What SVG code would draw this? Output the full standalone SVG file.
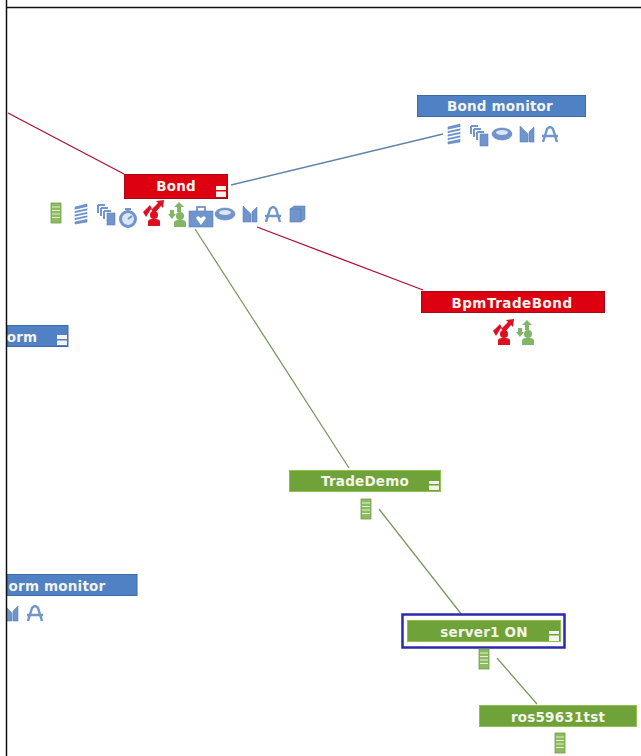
<svg xmlns="http://www.w3.org/2000/svg" xmlns:xlink="http://www.w3.org/1999/xlink" width="641" height="756" viewBox="0 0 641 756">
<style>
.t{font-family:"DejaVu Sans",sans-serif;font-size:13.500px;font-weight:700;fill:#f4f4ec;text-anchor:middle;letter-spacing:.2px}
.bar{stroke-width:1}
.blue{fill:#4f81c4;stroke:#3f6aa6}
.red{fill:#dd0010;stroke:#a80818}
.green{fill:#6fa33a;stroke:#8fc050}
.c{fill:none;stroke-width:1.300}
.min{fill:#f4f4ec}
.ib{fill:#6f95cc;stroke:#5a7fb5;stroke-width:.6}
.il{fill:none;stroke:#7196cc;stroke-width:2}
.ir{fill:#dd1020}
.ig{fill:#82b565}
</style>
<defs>
<g id="server"><rect x="-5" y="-10" width="10" height="20" fill="#8dbb62" stroke="#6e9e48" stroke-width=".8"/><path d="M-4-6H4M-4-2.500H4M-4 1H4M-4 4.500H4" stroke="#e4f0d4" stroke-width="1.200"/></g>
<g id="stack"><path class="ib" d="M-6-7 6-10V8L-6 10Z"/><path d="M-7-3.500 7-6.500M-7 0 7-3M-7 3.500 7 .5M-7 7 7 4" stroke="#fff" stroke-width="1.300"/></g>
<g id="cards"><path class="il" d="M-9-9H-2M-9-9V-1M-6-6H1M-6-6V2M-3-3H4M-3-3V5"/><rect class="ib" x="0" y="-1" width="8" height="12"/></g>
<g id="timer"><circle cx="0" cy="1" r="7.500" fill="#dbe6f5" stroke="#6f95cc" stroke-width="3"/><path d="M-3-9H3M0 1 4-2" stroke="#6f95cc" stroke-width="2" fill="none"/></g>
<g id="redman"><path class="ir" d="M-10-1-3-8-1-4 5-10 3-12 11-13 10-5 8-7 1 1-2-4-7 4Z"/><circle class="ir" cx="1" cy="2" r="4"/><path class="ir" d="M-5 13V8Q-4 6-1 6H3Q6 6 7 8V13Z"/></g>
<g id="greenman"><path class="ig" d="M1-12 6-7H3V-2H-1V-7H-4ZM-8-4H-4V0H-2L-6 5-10 0H-8Z"/><circle class="ig" cx="2" cy="2" r="4"/><path class="ig" d="M-4 13V8Q-3 6 0 6H4Q7 6 8 8V13Z"/></g>
<g id="case"><path d="M-4-8V-12H4V-8" fill="none" stroke="#5a7fb5" stroke-width="1.500"/><rect class="ib" x="-12" y="-8" width="24" height="16"/><path d="M0 6-5-1-3-3 0-1 3-3 5-1Z" fill="#fff"/></g>
<g id="disk"><ellipse class="ib" cx="0" cy="1" rx="10" ry="6"/><ellipse cx="0" cy="-.5" rx="6" ry="2.500" fill="#dbe6f5"/></g>
<g id="shape"><path class="ib" d="M-7-8 1 0V8H-7ZM2-2 7-7V8H2Z" /></g>
<g id="arch"><path d="M-7 8-3-5Q0-9 3-5L7 8M-8 2H8" fill="none" stroke="#7196cc" stroke-width="2.500"/></g>
<g id="cube"><rect class="ib" x="-7" y="-5" width="11" height="13"/><path class="ib" d="M-7-5-3-8H8V5L4 8V-5Z"/></g>
</defs>
<rect width="641" height="756" fill="#fff"/>
<g id="connectors">
<path class="c" d="M8 113 124 174M257 227 423 290" stroke="#b01030"/>
<path class="c" d="M231 185 443 134" stroke="#5f83a8"/>
<path class="c" d="M195 229 349 468M379 509 462 615M497 658 537 704" stroke="#7d9a62"/>
</g>
<g id="node-bond"><rect class="bar red" x="124.500" y="174.500" width="103" height="24"/><text class="t" x="176" y="191">Bond</text><rect class="min" x="216" y="186" width="10" height="11"/><rect x="216" y="190" width="10" height="1.500" fill="#dd0010"/>
<use xlink:href="#server" x="56" y="213"/><use xlink:href="#stack" x="81" y="214"/><use xlink:href="#cards" x="107" y="214"/><use xlink:href="#timer" x="128" y="218"/><use xlink:href="#redman" x="153" y="213"/><use xlink:href="#greenman" x="178" y="214"/><use xlink:href="#case" x="201" y="219"/><use xlink:href="#disk" x="225" y="213"/><use xlink:href="#shape" x="250" y="214"/><use xlink:href="#arch" x="273" y="214"/><use xlink:href="#cube" x="297" y="214"/></g>
<g id="node-bond-monitor"><rect class="bar blue" x="417.500" y="95.500" width="168" height="21"/><text class="t" x="500" y="111">Bond monitor</text>
<use xlink:href="#stack" x="454" y="134"/><use xlink:href="#cards" x="480" y="135"/><use xlink:href="#disk" x="502" y="133"/><use xlink:href="#shape" x="527" y="134"/><use xlink:href="#arch" x="550" y="134"/></g>
<g id="node-bpmtradebond"><rect class="bar red" x="421.500" y="291.500" width="183" height="21"/><text class="t" x="512" y="308" style="letter-spacing:.5px">BpmTradeBond</text>
<use xlink:href="#redman" x="503" y="332"/><use xlink:href="#greenman" x="526" y="332"/></g>
<g id="node-form"><rect class="bar blue" x="7" y="325.500" width="61" height="21"/><text class="t" x="22" y="342">orm</text><rect class="min" x="57" y="335" width="10" height="10"/><rect x="57" y="339" width="10" height="1.500" fill="#4f81c4"/></g>
<g id="node-form-monitor"><rect class="bar blue" x="7" y="574.500" width="130" height="21"/><text class="t" x="57" y="591">orm monitor</text>
<use xlink:href="#shape" x="11" y="613"/><use xlink:href="#arch" x="35" y="613"/></g>
<g id="node-tradedemo"><rect class="bar green" x="289.500" y="470.500" width="151" height="21"/><text class="t" x="365" y="486">TradeDemo</text><rect class="min" x="429" y="481" width="10" height="9"/><rect x="429" y="484" width="10" height="1.500" fill="#6fa33a"/>
<use xlink:href="#server" x="366" y="509"/></g>
<g id="node-server1"><rect x="402.500" y="614.500" width="162" height="33" fill="#fff" stroke="#2a2aae" stroke-width="2.500"/><rect class="bar green" x="407.500" y="620.500" width="153" height="21"/><text class="t" x="484" y="637">server1 ON</text><rect class="min" x="549" y="631" width="10" height="10"/><rect x="549" y="634" width="10" height="1.500" fill="#6fa33a"/>
<use xlink:href="#server" x="484" y="659"/></g>
<g id="node-ros"><rect class="bar green" x="479.500" y="705.500" width="157" height="21"/><text class="t" x="558" y="722">ros59631tst</text>
<use xlink:href="#server" x="560" y="743"/></g>
<rect x="0" y="0" width="6" height="756" fill="#fff"/>
<rect x="0" y="0" width="641" height="7" fill="#fff"/>
<path d="M6.500 0V756M6 7.500H641" fill="none" stroke="#111" stroke-width="1.500"/>
</svg>
